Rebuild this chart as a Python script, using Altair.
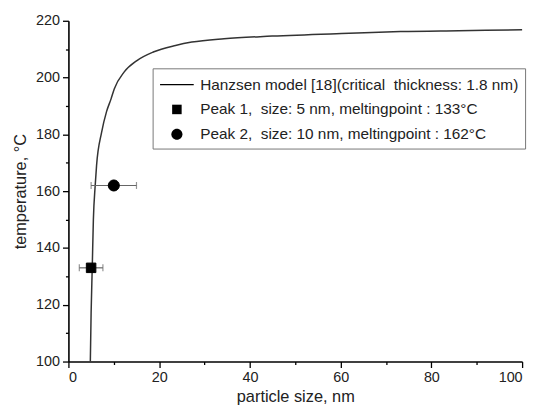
import altair as alt
import pandas as pd

# ---- data ----
curve_size = [4.83, 5.0, 5.25, 5.5, 5.9, 6.2, 7.3, 8.4, 9.4, 10.1, 12.3, 15.1, 18.7, 23.6, 27.2, 34.3, 44.9, 61.9, 73.2, 86.0, 100.0]
curve_temp = [100, 117, 133, 150, 162, 169, 180.6, 188, 192.5, 196, 202, 206, 209, 211.3, 212.5, 213.7, 214.6, 215.6, 216.2, 216.5, 216.8]

peak_size = [5, 10]
peak_temp = [133, 162]
peak_err = [2.6, 5.0]

NB = "\u00a0"
legend_labels = [
    "Hanzsen model [18](critical " + NB + "thickness: 1.8 nm)",
    "Peak 1, " + NB + "size: 5 nm, meltingpoint : 133°C",
    "Peak 2, " + NB + "size: 10 nm, meltingpoint : 162°C",
]

x_ticks = list(range(0, 101, 10))
y_ticks = list(range(100, 221, 10))

curve = pd.DataFrame({"size": curve_size, "temp": curve_temp})
peaks = pd.DataFrame({
    "size": peak_size,
    "temp": peak_temp,
    "lo": [s - e for s, e in zip(peak_size, peak_err)],
    "hi": [s + e for s, e in zip(peak_size, peak_err)],
    "label": legend_labels[1:],
})

FONT = "Liberation Sans"
TXT = "#222222"

xs = alt.Scale(domain=[0, 100], nice=False)
ys = alt.Scale(domain=[100, 220], nice=False)

major_minor = {"condition": {"test": "datum.value % 20 == 0", "value": 6}, "value": 3}

x_axis = alt.Axis(
    values=x_ticks,
    labelExpr="datum.value % 20 == 0 ? datum.label : ''",
    tickSize=major_minor,
    title="particle size, nm",
    titlePadding=5,
    labelPadding=3,
)
y_axis = alt.Axis(
    values=y_ticks,
    labelExpr="datum.value % 20 == 0 ? datum.label : ''",
    tickSize=major_minor,
    title="temperature, °C",
    titlePadding=7,
    labelPadding=3,
)

line = alt.Chart(curve).mark_line(color="#333333", strokeWidth=1.5, interpolate="monotone").encode(
    x=alt.X("size:Q", scale=xs, axis=x_axis),
    y=alt.Y("temp:Q", scale=ys, axis=y_axis),
)

err = alt.Chart(peaks).mark_errorbar(ticks={"size": 7, "color": "#666666"}, color="#666666", thickness=1.2).encode(
    x=alt.X("lo:Q", scale=xs, axis=x_axis),
    x2="hi:Q",
    y=alt.Y("temp:Q", scale=ys, axis=y_axis),
)

# symbol paths (unit space scaled by sqrt(size)/2 = 10 px)
line_path = "M-1.7,-0.07H1.7V0.07H-1.7Z"
square_path = "M-0.48,-0.48H0.48V0.48H-0.48Z"
circle_path = "M0.56,0A0.56,0.56,0,1,1,-0.56,0A0.56,0.56,0,1,1,0.56,0Z"

pts = alt.Chart(peaks).mark_point(filled=True, fill="black", stroke="black", strokeWidth=1, size=400, opacity=1).encode(
    x=alt.X("size:Q", scale=xs, axis=x_axis),
    y=alt.Y("temp:Q", scale=ys, axis=y_axis),
    shape=alt.Shape(
        "label:N",
        scale=alt.Scale(domain=legend_labels, range=[line_path, square_path, circle_path]),
        legend=alt.Legend(
            orient="none", legendX=85, legendY=48, title=None,
            strokeColor="#777777", fillColor="white", padding=6,
            labelFont=FONT, labelFontSize=15.5, labelColor=TXT, labelLimit=0,
            labelOffset=13, rowPadding=6, symbolSize=400, symbolOffset=8,
            symbolFillColor="black", symbolStrokeColor="black", symbolStrokeWidth=1,
        ),
    ),
)

chart = alt.layer(line, err, pts).properties(
    width=458, height=344,
    autosize=alt.AutoSizeParams(type="none"),
    padding={"left": 61, "top": 11, "right": 12, "bottom": 45},
).configure_view(stroke=None).configure_axis(
    grid=False,
    domainColor="black", domainWidth=1.6,
    tickColor="black", tickWidth=1.3,
    labelFont=FONT, labelFontSize=14.5, labelColor=TXT,
    titleFont=FONT, titleFontSize=16.5, titleFontWeight="normal", titleColor=TXT,
)

chart.save("out.html", embed_options={"renderer": "svg", "actions": False})
